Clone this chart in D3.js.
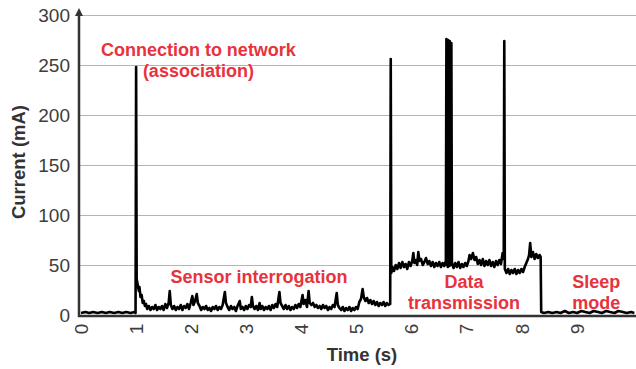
<!DOCTYPE html>
<html>
<head>
  <title>Current trace</title>
  <script src="https://d3js.org/d3.v7.min.js"></script>
  <style>
    body { margin: 0; background: #fff; }
    text { font-family: "Liberation Sans", Arial, sans-serif; }
  </style>
</head>
<body>
  <div id="chart"></div>

  <script>
    // [time (s), current (mA)], one array per phase
    var idle = [[0.00,2],[0.08,3],[0.15,2],[0.22,3],[0.30,2],[0.38,3],[0.45,2],[0.52,3],[0.60,2],
      [0.68,3],[0.75,2],[0.82,3],[0.90,2],[0.97,3],[0.99,2]];

    var connect = [[1.00,248],[1.01,36],[1.03,30],[1.05,24],[1.06,28],[1.08,18],[1.10,20],
      [1.12,12],[1.14,14],[1.16,9],[1.18,11],[1.20,6]];

    var sensor = [[1.23,9],[1.26,5],[1.29,8],[1.32,6],[1.35,10],[1.38,5],[1.41,8],[1.44,6],[1.47,9],
      [1.50,5],[1.53,11],[1.56,7],[1.59,12],[1.61,24],[1.63,10],[1.66,6],[1.69,9],[1.72,5],[1.75,8],
      [1.78,6],[1.81,10],[1.84,5],[1.87,9],[1.90,7],[1.93,11],[1.96,6],[1.99,12],[2.02,19],[2.04,10],
      [2.07,14],[2.10,21],[2.12,12],[2.15,9],[2.18,5],[2.21,8],[2.24,6],[2.27,9],[2.30,5],[2.33,7],
      [2.36,4],[2.39,8],[2.42,6],[2.45,9],[2.48,5],[2.51,8],[2.54,6],[2.57,10],[2.61,23],[2.63,12],
      [2.66,8],[2.69,5],[2.72,9],[2.75,6],[2.78,8],[2.81,4],[2.84,9],[2.88,14],[2.90,6],[2.93,8],
      [2.96,5],[2.99,9],[3.02,6],[3.05,10],[3.08,8],[3.10,18],[3.12,9],[3.15,6],[3.18,9],[3.21,5],
      [3.24,12],[3.26,6],[3.29,9],[3.32,5],[3.35,8],[3.38,6],[3.41,9],[3.44,5],[3.47,10],[3.50,7],
      [3.53,11],[3.56,8],[3.60,23],[3.62,12],[3.65,9],[3.68,6],[3.71,10],[3.74,6],[3.77,9],[3.80,5],
      [3.83,8],[3.86,6],[3.89,10],[3.92,7],[3.95,11],[3.98,8],[4.02,20],[4.04,11],[4.07,15],[4.10,8],
      [4.13,24],[4.15,12],[4.18,10],[4.21,12],[4.24,8],[4.27,10],[4.30,7],[4.33,9],[4.36,6],[4.39,10],
      [4.42,7],[4.45,9],[4.48,5],[4.51,8],[4.54,6],[4.57,10],[4.60,8],[4.64,22],[4.66,10],[4.69,7],
      [4.72,5],[4.75,8],[4.78,4],[4.81,7],[4.84,5],[4.87,8],[4.90,4],[4.93,7],[4.96,5],[4.99,8],
      [5.02,6],[5.05,13],[5.08,16],[5.11,26],[5.13,18],[5.16,14],[5.19,17],[5.22,12],[5.25,15],
      [5.28,11],[5.31,14],[5.34,10],[5.37,13],[5.40,9],[5.43,12],[5.46,10],[5.49,13],[5.52,9],
      [5.55,12],[5.58,10],[5.61,11]];

    var transmit = [[5.62,256],[5.63,42],[5.65,48],[5.68,44],[5.71,50],[5.74,46],[5.77,52],[5.80,47],
      [5.83,53],[5.86,48],[5.89,51],[5.92,46],[5.95,53],[5.98,49],[6.01,54],[6.03,62],[6.05,52],
      [6.08,55],[6.10,50],[6.12,63],[6.14,54],[6.17,56],[6.20,50],[6.23,53],[6.26,57],[6.29,51],
      [6.32,54],[6.35,49],[6.38,53],[6.41,48],[6.44,52],[6.47,49],[6.50,53],[6.53,48],[6.56,52],
      [6.59,49],[6.62,54],
      [6.63,276],[6.64,50],[6.645,272],[6.655,48],[6.66,275],[6.67,52],[6.675,270],[6.685,49],
      [6.69,274],[6.70,51],[6.705,268],[6.715,50],[6.72,272],[6.73,52],
      [6.76,47],[6.79,52],[6.82,48],[6.85,53],[6.88,47],[6.91,51],[6.94,48],[6.97,52],[7.00,49],
      [7.03,54],[7.05,60],[7.08,56],[7.11,62],[7.14,55],[7.17,58],[7.20,51],[7.23,55],[7.26,50],
      [7.29,56],[7.32,49],[7.35,54],[7.38,50],[7.41,55],[7.44,49],[7.47,53],[7.50,48],[7.53,54],
      [7.56,50],[7.59,55],[7.62,51],[7.65,62],[7.67,56],[7.68,274],[7.69,46],[7.72,42],[7.75,46],
      [7.78,41],[7.81,45],[7.84,42],[7.87,46],[7.90,41],[7.93,45],[7.96,42],[7.99,46],[8.02,43],
      [8.05,48],[8.08,52],[8.11,56],[8.13,60],[8.15,72],[8.17,58],[8.20,63],[8.23,56],[8.26,61],
      [8.29,57],[8.32,60],[8.34,58]];

    var sleep = [[8.35,3],[8.40,2],[8.48,3],[8.55,2],[8.63,3],[8.70,2],[8.78,4],[8.85,2],[8.93,3],
      [9.00,2],[9.08,4],[9.15,3],[9.23,2],[9.30,4],[9.38,3],[9.45,2],[9.53,4],[9.60,3],[9.68,2],
      [9.75,4],[9.83,3],[9.90,2],[9.98,3],[10.04,2]];

    var xTicks = [0, 1, 2, 3, 4, 5, 6, 7, 8, 9];
    var yTicks = [0, 50, 100, 150, 200, 250, 300];

    var annotations = [
      { lines: ["Connection to network", "(association)"], t: 2.13, v: 259 },
      { lines: ["Sensor interrogation"], t: 3.23, v: 32 },
      { lines: ["Data", "transmission"], t: 6.95, v: 27 },
      { lines: ["Sleep", "mode"], t: 9.35, v: 27 }
    ];

    var trace = idle.concat(connect, sensor, transmit, sleep);

    var width = 636, height = 369;

    var x = d3.scaleLinear().domain([0, 10.07]).range([81, 636]);
    var y = d3.scaleLinear().domain([0, 300]).range([315, 15]);

    var svg = d3.select("#chart")
      .append("svg")
      .attr("width", width)
      .attr("height", height);

    // gridlines
    svg.selectAll(".grid")
      .data(yTicks.filter(function(d) { return d > 0; }))
      .enter()
      .append("line")
      .attr("x1", 79)
      .attr("x2", width)
      .attr("y1", function(d) { return y(d) + 0.5; })
      .attr("y2", function(d) { return y(d) + 0.5; })
      .attr("stroke", "#b4b4b4")
      .attr("stroke-width", 1);

    // y tick labels
    svg.selectAll(".ylab")
      .data(yTicks)
      .enter()
      .append("text")
      .attr("x", 70)
      .attr("y", function(d) { return y(d); })
      .attr("dy", "0.35em")
      .attr("text-anchor", "end")
      .style("font-size", "19px")
      .style("fill", "#3d3d3d")
      .text(function(d) { return d; });

    // x tick labels, rotated
    svg.selectAll(".xlab")
      .data(xTicks)
      .enter()
      .append("text")
      .attr("transform", function(d) { return "translate(" + x(d) + ",329) rotate(-90)"; })
      .attr("dy", "0.35em")
      .attr("text-anchor", "middle")
      .style("font-size", "19px")
      .style("fill", "#3d3d3d")
      .text(function(d) { return d; });

    // trace
    var line = d3.line()
      .x(function(d) { return x(d[0]); })
      .y(function(d) { return y(d[1]); });

    svg.append("path")
      .datum(trace)
      .attr("d", line)
      .attr("fill", "none")
      .attr("stroke", "#000")
      .attr("stroke-width", 2.6)
      .attr("stroke-linejoin", "round");

    // axes
    svg.append("line")
      .attr("x1", 78).attr("x2", width)
      .attr("y1", 316).attr("y2", 316)
      .attr("stroke", "#333").attr("stroke-width", 2.5);

    svg.append("line")
      .attr("x1", 79).attr("x2", 79)
      .attr("y1", 317).attr("y2", 14)
      .attr("stroke", "#333").attr("stroke-width", 2.5);

    svg.append("path")
      .attr("d", "M75,16 L79,8 L83,16 Z")
      .attr("fill", "#333");

    // axis titles
    svg.append("text")
      .attr("x", 362)
      .attr("y", 361)
      .attr("text-anchor", "middle")
      .style("font-size", "18.5px")
      .style("font-weight", "bold")
      .style("fill", "#333")
      .text("Time (s)");

    svg.append("text")
      .attr("transform", "translate(25,162) rotate(-90)")
      .attr("text-anchor", "middle")
      .style("font-size", "18.5px")
      .style("font-weight", "bold")
      .style("fill", "#333")
      .text("Current (mA)");

    // phase annotations
    annotations.forEach(function(a) {
      var txt = svg.append("text")
        .attr("x", x(a.t))
        .attr("y", y(a.v))
        .attr("text-anchor", "middle")
        .style("font-size", "18px")
        .style("font-weight", "bold")
        .style("fill", "#e8323c");
      a.lines.forEach(function(s, i) {
        txt.append("tspan")
          .attr("x", x(a.t))
          .attr("dy", i === 0 ? 0 : 21)
          .text(s);
      });
    });
  </script>
</body>
</html>
